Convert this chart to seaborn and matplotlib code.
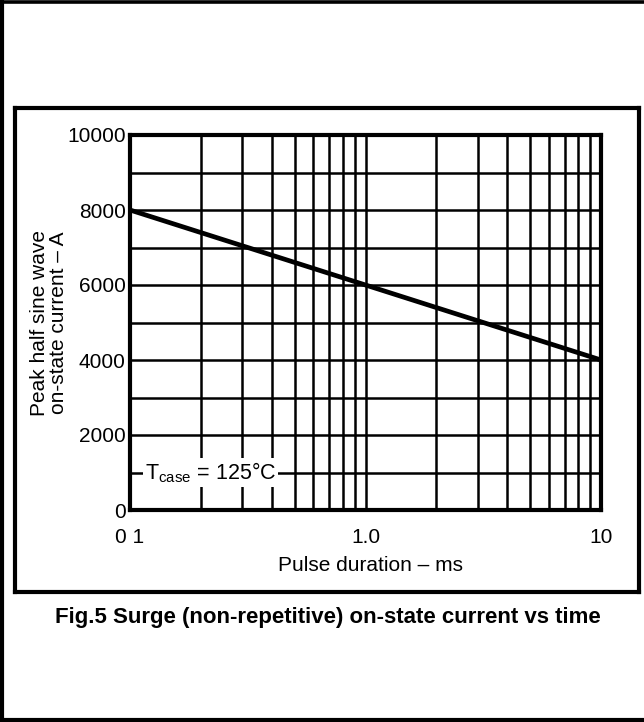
import matplotlib
matplotlib.use("Agg")
import matplotlib.pyplot as plt
import seaborn as sns
import pandas as pd
from matplotlib.lines import Line2D
from matplotlib.ticker import FixedLocator, NullFormatter, FixedFormatter

# ---- data ----
pulse_ms = [0.1, 1.0, 10.0]
current_a = [8000, 6000, 4000]
x_major = [0.1, 1.0, 10.0]
x_major_labels = ["0 1", "1.0", "10"]
x_minor = [0.2, 0.3, 0.4, 0.5, 0.6, 0.7, 0.8, 0.9, 2, 3, 4, 5, 6, 7, 8, 9]
y_major = [0, 2000, 4000, 6000, 8000, 10000]
y_minor = [1000, 3000, 5000, 7000, 9000]
title = "Fig.5 Surge (non-repetitive) on-state current vs time"
xlabel = "Pulse duration \u2013 ms"
ylabel = "Peak half sine wave\non-state current \u2013 A"
note = r"T$_{\mathregular{case}}$ = 125$\degree$C"

sns.set_theme(style="white")
plt.rcParams["font.family"] = ["Liberation Sans", "DejaVu Sans"]
plt.rcParams["mathtext.fontset"] = "custom"
plt.rcParams["mathtext.rm"] = "Liberation Sans"
plt.rcParams["mathtext.it"] = "Liberation Sans:italic"
plt.rcParams["mathtext.bf"] = "Liberation Sans:bold"

W, H = 644, 722
fig = plt.figure(figsize=(W / 100, H / 100), dpi=100)
fig.patch.set_facecolor("white")

def fx(px):
    return px / W

def fy(py):
    return 1 - py / H

L, R, T, B = 130, 601, 135, 510
ax = fig.add_axes([fx(L), fy(B), fx(R) - fx(L), fy(T) - fy(B)])

df = pd.DataFrame({"pulse": pulse_ms, "current": current_a})
sns.lineplot(data=df, x="pulse", y="current", color="black", linewidth=3.4, ax=ax, zorder=5)

ax.set_xscale("log")
ax.set_xlim(0.1, 10)
ax.set_ylim(0, 10000)

ax.xaxis.set_major_locator(FixedLocator(x_major))
ax.xaxis.set_major_formatter(FixedFormatter(x_major_labels))
ax.xaxis.set_minor_locator(FixedLocator(x_minor))
ax.xaxis.set_minor_formatter(NullFormatter())
ax.yaxis.set_major_locator(FixedLocator(y_major))
ax.yaxis.set_minor_locator(FixedLocator(y_minor))
ax.yaxis.set_minor_formatter(NullFormatter())

ax.tick_params(which="both", length=0)
ax.tick_params(axis="x", which="major", pad=13, labelsize=15, colors="black")
ax.tick_params(axis="y", which="major", pad=3, labelsize=15, colors="black")

ax.grid(True, which="both", color="black", linewidth=1.8)
for s in ax.spines.values():
    s.set_visible(True)
    s.set_color("black")
    s.set_linewidth(3.0)

ax.set_xlabel(xlabel, fontsize=15, color="black")
ax.set_ylabel(ylabel, fontsize=15, color="black", linespacing=1.0)
ax.xaxis.set_label_coords((370 - L) / (R - L), -(556 - B) / (B - T))
ax.yaxis.set_label_coords(-(L - 68) / (R - L), 0.5)

ax.text(0.1155, 1000, note, fontsize=15.5, color="black", ha="left", va="center",
        bbox=dict(facecolor="white", edgecolor="none", pad=1.5), zorder=6)

fig.text(fx(328), fy(617), title, fontsize=16, fontweight="bold", color="black",
         ha="center", va="center")

def seg(x0, y0, x1, y1, lw):
    fig.add_artist(Line2D([fx(x0), fx(x1)], [fy(y0), fy(y1)], color="black",
                          linewidth=lw, transform=fig.transFigure, solid_capstyle="projecting"))

# outer frame (right side is cut off in the reference)
seg(2, -5, 2, 727, 3.0)
seg(-5, 1.5, 660, 1.5, 2.6)
seg(-5, 720, 660, 720, 3.0)
# inner box
seg(15, 108, 639, 108, 3.0)
seg(15, 108, 15, 592, 3.0)
seg(639, 108, 639, 592, 3.0)
seg(15, 592, 639, 592, 3.0)

fig.savefig("out.png", dpi=100)
